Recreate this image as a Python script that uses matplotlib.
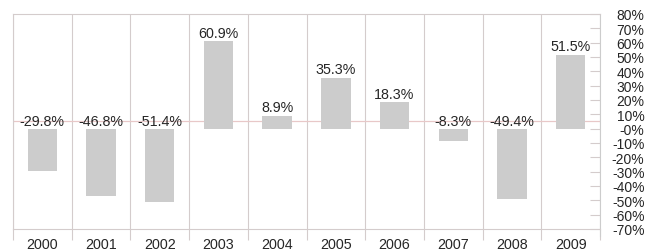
#!/usr/bin/env python3
import matplotlib

matplotlib.use("Agg")
import matplotlib.pyplot as plt
from matplotlib.ticker import FixedLocator

plt.rcParams["font.family"] = ["Liberation Sans", "DejaVu Sans"]

YEARS = ["2000", "2001", "2002", "2003", "2004", "2005", "2006", "2007", "2008", "2009"]
RETURNS = [-29.8, -46.8, -51.4, 60.9, 8.9, 35.3, 18.3, -8.3, -49.4, 51.5]
Y_TICKS = [80, 70, 60, 50, 40, 30, 20, 10, 0, -10, -20, -30, -40, -50, -60, -70]
REF_LINE = 5.2

BAR_COLOR = "#cccccc"
GRID_COLOR = "#d4cccc"
TEXT_COLOR = "#262626"


def main():
    fig = plt.figure(figsize=(6.59, 2.51), dpi=100)
    ax = fig.add_axes([13 / 659, 21 / 251, 587 / 659, 215 / 251])

    x = list(range(len(YEARS)))
    ax.bar(x, RETURNS, width=0.5, color=BAR_COLOR, zorder=2)

    # column separators
    for b in [i - 0.5 for i in range(len(YEARS) + 1)]:
        ax.axvline(b, color=GRID_COLOR, lw=0.8, zorder=1)
    ax.axhline(REF_LINE, color="#e8c8c8", lw=0.9, zorder=1)

    for xi, v in zip(x, RETURNS):
        if v >= 0:
            ax.text(xi, v + 1.2, f"{v:.1f}%", ha="center", va="bottom",
                    fontsize=10.3, color=TEXT_COLOR, zorder=3)
        else:
            ax.text(xi, REF_LINE, f"{v:.1f}%", ha="center", va="center",
                    fontsize=10.3, color=TEXT_COLOR, zorder=3)

    ax.set_xlim(-0.5, len(YEARS) - 0.5)
    ax.set_ylim(-70, 80)

    ax.set_xticks(x)
    ax.set_xticklabels(YEARS)
    ax.xaxis.set_minor_locator(FixedLocator([i - 0.5 for i in range(len(YEARS) + 1)]))
    ax.tick_params(axis="x", which="major", length=0, pad=6, labelsize=10.3, labelcolor=TEXT_COLOR)
    ax.tick_params(axis="x", which="minor", length=8, color=GRID_COLOR, width=0.8)

    ax.yaxis.tick_right()
    ax.set_yticks(Y_TICKS)
    ax.set_yticklabels([f"{t}%" if t != 0 else "-0%" for t in Y_TICKS])
    ax.tick_params(axis="y", direction="in", length=7, color=GRID_COLOR, width=0.8,
                   labelsize=10, labelcolor=TEXT_COLOR)
    for lbl in ax.get_yticklabels():
        lbl.set_horizontalalignment("right")
    ax.yaxis.set_tick_params(pad=32)

    for side in ("left", "top", "bottom"):
        ax.spines[side].set_color(GRID_COLOR)
        ax.spines[side].set_linewidth(0.8)
    ax.spines["right"].set_color("#cccccc")
    ax.spines["right"].set_linewidth(0.8)
    ax.spines["right"].set_bounds(-75, 80)

    fig.savefig("out.png", dpi=100)


if __name__ == "__main__":
    main()
